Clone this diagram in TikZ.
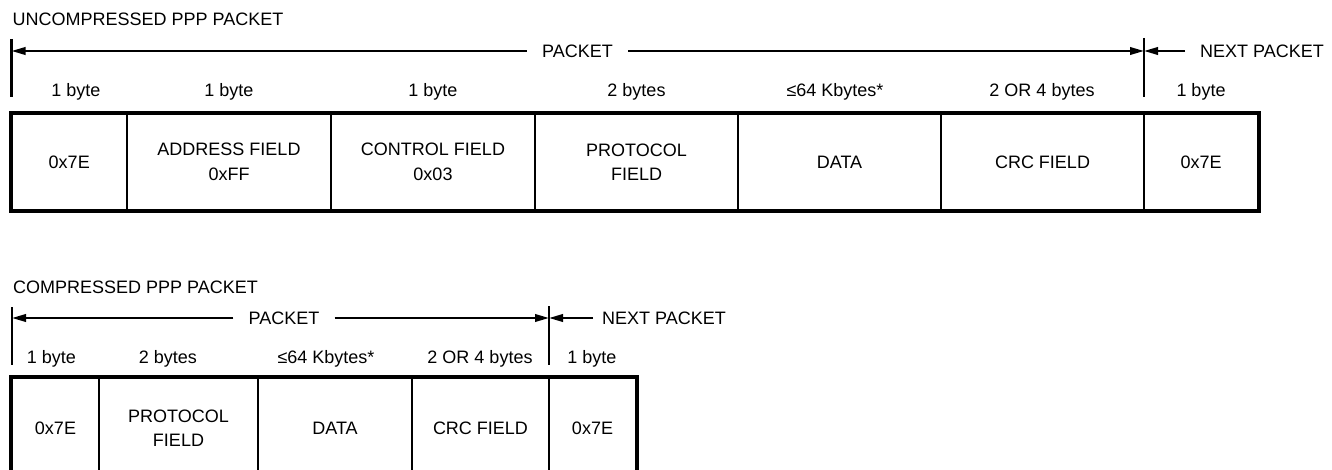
\documentclass[tikz,border=0pt]{standalone}
\usepackage{fontspec}
\setmainfont{Liberation Sans}
\usetikzlibrary{arrows.meta}

\begin{document}
\begin{tikzpicture}
  [x=1pt,y=-1pt,
   every node/.style={font=\fontsize{18}{24.5}\selectfont,inner sep=0pt},
   cell/.style={draw,line width=2.2pt,align=center},
   lbl/.style={anchor=base},
   arr/.style={line width=2.2pt,-{Triangle[length=14pt,width=7.5pt]}},
   tick/.style={line width=2.2pt}]
  \useasboundingbox (0,0) rectangle (1332,470);
  \clip (0,0) rectangle (1332,470);

  \node[anchor=base west] (utitle) at (12.5,26) {UNCOMPRESSED PPP PACKET};

  \coordinate (utt) at (11.5,39);
  \coordinate (utb) at (11.5,97);
  \coordinate (urt) at (1144,38);
  \coordinate (urb) at (1144,97);
  \coordinate (ul) at (11.5,51);
  \coordinate (ur) at (1144,51);
  \node[inner xsep=15pt] (upk) at (577.5,51) {PACKET};
  \node[anchor=west,inner xsep=15pt] (unx) at (1185,51) {NEXT PACKET};

  \foreach \nm/\xx/\txt in {ub1/76/1 byte, ub2/229/1 byte, ub3/433/1 byte,
      ub4/636.5/2 bytes, ub5/835/≤64 Kbytes*, ub6/1042/2 OR 4 bytes, ub7/1201/1 byte}
    \node[lbl] (\nm) at (\xx,97) {\txt};

  \node[cell,minimum width=115.5pt,minimum height=96pt] (u1) at (69.25,162) {0x7E};
  \node[cell,minimum width=204pt,minimum height=96pt] (u2) at (229,162)  {ADDRESS FIELD\\0xFF};
  \node[cell,minimum width=204pt,minimum height=96pt] (u3) at (433,162)  {CONTROL FIELD\\0x03};
  \node[cell,minimum width=203pt,minimum height=96pt] (u4) at (636.5,162) {PROTOCOL\\FIELD};
  \node[cell,minimum width=203pt,minimum height=96pt] (u5) at (839.5,162) {DATA};
  \node[cell,minimum width=203pt,minimum height=96pt] (u6) at (1042.5,162) {CRC FIELD};
  \node[cell,minimum width=114pt,minimum height=96pt] (u7) at (1201,162) {0x7E};
  \draw[line width=3.5pt] (u1.north west) rectangle (u7.south east);

  \draw[tick] (utt) -- (utb);
  \draw[tick] (urt) -- (urb);
  \foreach \from/\to in {upk.west/ul, upk.east/ur, unx.west/ur}
    \draw[arr] (\from) -- (\to);

  \node[anchor=base west] (ctitle) at (13,293) {COMPRESSED PPP PACKET};

  \coordinate (ctt) at (12,307);
  \coordinate (ctb) at (12,365);
  \coordinate (crt) at (549,306);
  \coordinate (crb) at (549,365);
  \coordinate (cl) at (12,318);
  \coordinate (cr) at (549,318);
  \node[inner xsep=15pt] (cpk) at (284,318) {PACKET};
  \node[anchor=west,inner xsep=9pt] (cnx) at (593,318) {NEXT PACKET};

  \foreach \nm/\xx/\txt in {cb1/51.5/1 byte, cb2/168/2 bytes, cb3/326/≤64 Kbytes*,
      cb4/480/2 OR 4 bytes, cb5/592/1 byte}
    \node[lbl] (\nm) at (\xx,363.5) {\txt};

  \node[cell,minimum width=87pt,minimum height=100pt] (c1) at (55.5,428) {0x7E};
  \node[cell,minimum width=159pt,minimum height=100pt] (c2) at (178.5,428) {PROTOCOL\\FIELD};
  \node[cell,minimum width=154pt,minimum height=100pt] (c3) at (335,428) {DATA};
  \node[cell,minimum width=137pt,minimum height=100pt] (c4) at (480.5,428) {CRC FIELD};
  \node[cell,minimum width=87pt,minimum height=100pt] (c5) at (592.5,428) {0x7E};
  \draw[line width=3.5pt] (c1.north west) rectangle (c5.south east);

  \draw[tick] (ctt) -- (ctb);
  \draw[tick] (crt) -- (crb);
  \foreach \from/\to in {cpk.west/cl, cpk.east/cr, cnx.west/cr}
    \draw[arr] (\from) -- (\to);

\end{tikzpicture}
\end{document}
